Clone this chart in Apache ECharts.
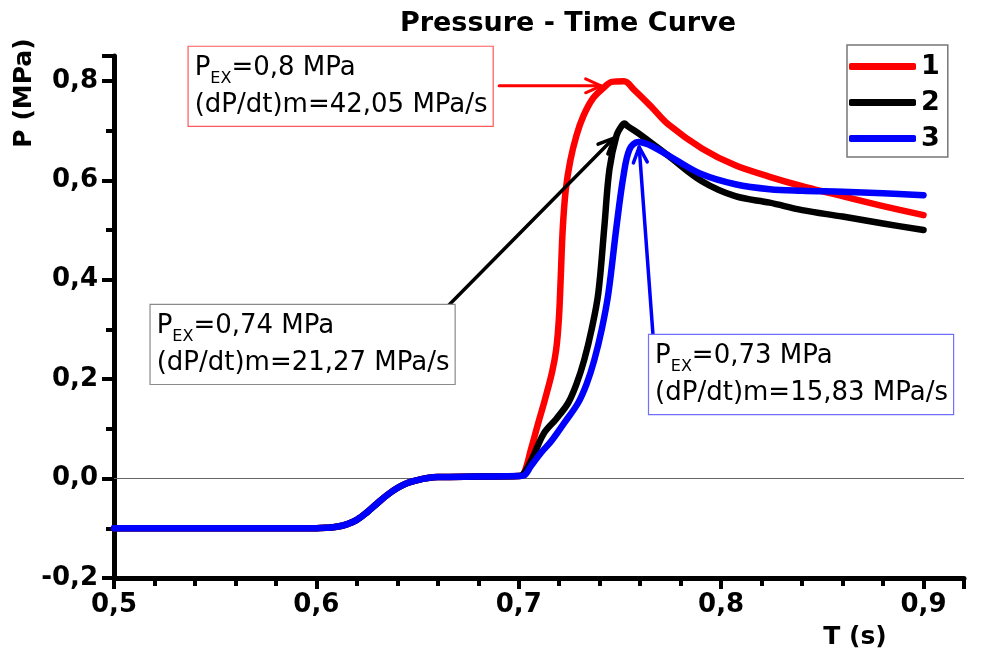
<!DOCTYPE html>
<html><head><meta charset="utf-8">
<script src="https://cdn.jsdelivr.net/npm/echarts@6/dist/echarts.min.js"></script>
<style>html,body{margin:0;padding:0;background:#fff}#c{width:981px;height:655px}</style>
</head><body><div id="c"></div>
<script>
// ---- data ----
const seriesNames = ['1', '2', '3'];
const seriesColors = ['#ff0000', '#000000', '#0000ff'];
// common initial segment (all three curves coincide)
const baseT = [0.5, 0.6, 0.605, 0.61, 0.615, 0.62, 0.625, 0.63, 0.635, 0.64, 0.645, 0.65, 0.655, 0.66, 0.68, 0.7];
const baseP = [-0.1, -0.1, -0.099, -0.097, -0.092, -0.083, -0.068, -0.05, -0.033, -0.019, -0.009, -0.003, 0.001, 0.003, 0.004, 0.005];
// curve 1 (red)
const t1 = [0.7025, 0.706, 0.7095, 0.713, 0.7165, 0.7185, 0.7198, 0.7207, 0.7217, 0.7232, 0.7255, 0.7285, 0.732, 0.7367, 0.7422, 0.746, 0.752, 0.757, 0.7655, 0.774, 0.7905, 0.807, 0.824, 0.84, 0.85, 0.86, 0.88, 0.9];
const p1 = [0.01, 0.058, 0.11, 0.16, 0.215, 0.26, 0.32, 0.4, 0.5, 0.58, 0.64, 0.69, 0.73, 0.765, 0.787, 0.798, 0.799, 0.782, 0.748, 0.712, 0.664, 0.63, 0.607, 0.588, 0.578, 0.568, 0.548, 0.53];
// curve 2 (black)
const t2 = [0.7025, 0.7066, 0.7124, 0.7185, 0.7244, 0.7285, 0.7323, 0.736, 0.7393, 0.7423, 0.7448, 0.7483, 0.7508, 0.7522, 0.7538, 0.7607, 0.774, 0.7905, 0.807, 0.824, 0.84, 0.86, 0.88, 0.9];
const p2 = [0.01, 0.04, 0.091, 0.12, 0.152, 0.19, 0.238, 0.3, 0.373, 0.507, 0.622, 0.69, 0.709, 0.714, 0.709, 0.69, 0.649, 0.598, 0.568, 0.555, 0.54, 0.527, 0.513, 0.5];
// curve 3 (blue)
const t3 = [0.7025, 0.706, 0.711, 0.716, 0.7225, 0.7293, 0.7335, 0.7373, 0.741, 0.7443, 0.7483, 0.7517, 0.7547, 0.759, 0.7657, 0.7771, 0.7905, 0.807, 0.824, 0.84, 0.86, 0.88, 0.9];
const p3 = [0.006, 0.025, 0.052, 0.075, 0.112, 0.152, 0.19, 0.238, 0.3, 0.373, 0.507, 0.608, 0.662, 0.677, 0.669, 0.642, 0.612, 0.592, 0.582, 0.579, 0.577, 0.574, 0.57];
// axis ranges
const xRange = [0.5, 0.92];
const yRange = [-0.2, 0.85];
// annotations (texts + anchors in data coordinates)
const annTexts = [
  ['0,8 MPa', '(dP/dt)m=42,05 MPa/s'],
  ['0,74 MPa', '(dP/dt)m=21,27 MPa/s'],
  ['0,73 MPa', '(dP/dt)m=15,83 MPa/s']
];
const annBoxAnchor = [[0.5369, 0.8684], [0.5181, 0.3493], [0.7644, 0.2889]];
const annArrowFrom = [[0.6903, 0.790], [0.6655, 0.3493], [0.7664, 0.2849]];
const annArrowTo = [[0.7407, 0.790], [0.747, 0.685], [0.7595, 0.667]];

// ---- chart ----
const FONT = 'DejaVu Sans';
const fmt = v => v.toFixed(1).replace('.', ',');
function buildData(ts, ps) {
  const out = [];
  baseT.forEach((t, i) => out.push([t, baseP[i]]));
  ts.forEach((t, i) => out.push([t, ps[i]]));
  return out;
}
const allT = [t1, t2, t3], allP = [p1, p2, p3];

const chart = echarts.init(document.getElementById('c'), null, {renderer: 'canvas'});
const option = {
  animation: false,
  backgroundColor: '#ffffff',
  title: {
    text: 'Pressure - Time Curve',
    left: 563, top: 5, textAlign: 'center',
    textStyle: {fontFamily: FONT, fontWeight: 'bold', fontSize: 27, color: '#000'}
  },
  legend: {
    orient: 'vertical', left: 847, top: 45,
    padding: [8, 8, 5, 2],
    itemGap: 9, itemWidth: 67, itemHeight: 7,
    icon: 'roundRect',
    borderColor: '#777', borderWidth: 1.5,
    textStyle: {fontFamily: FONT, fontWeight: 'bold', fontSize: 27, color: '#000'},
    data: seriesNames
  },
  grid: {left: 114, right: 17, top: 56, bottom: 77, containLabel: false},
  xAxis: {
    type: 'value', min: xRange[0], max: xRange[1], interval: 0.1,
    axisLine: {onZero: false, lineStyle: {color: '#000', width: 5}},
    axisTick: {show: true, length: 11, lineStyle: {color: '#000', width: 4}},
    minorTick: {show: true, splitNumber: 5, length: 8, lineStyle: {color: '#000', width: 4}},
    splitLine: {show: false},
    axisLabel: {
      fontFamily: FONT, fontWeight: 'bold', fontSize: 26, color: '#000', margin: 14,
      showMaxLabel: false, formatter: fmt
    }
  },
  yAxis: {
    type: 'value', min: yRange[0], max: yRange[1], interval: 0.2,
    axisLine: {show: true, onZero: false, lineStyle: {color: '#000', width: 5}},
    axisTick: {show: true, length: 12, lineStyle: {color: '#000', width: 4}},
    minorTick: {show: true, splitNumber: 2, length: 8, lineStyle: {color: '#000', width: 4}},
    splitLine: {show: false},
    axisLabel: {
      fontFamily: FONT, fontWeight: 'bold', fontSize: 26, color: '#000', margin: 16,
      showMaxLabel: false, formatter: fmt
    }
  },
  series: seriesNames.map((name, i) => ({
    name, type: 'line',
    data: buildData(allT[i], allP[i]),
    showSymbol: false, symbol: 'none',
    smooth: 0.35,
    color: seriesColors[i],
    lineStyle: {color: seriesColors[i], width: 6.5, cap: 'round', join: 'round'},
    z: 2 + i,
    markLine: i === 0 ? {
      silent: true, symbol: ['none', 'none'], label: {show: false},
      lineStyle: {color: '#666', width: 1, type: 'solid'},
      data: [{yAxis: 0}], z: 1
    } : undefined
  }))
};
chart.setOption(option);

// annotation graphics from data coordinates
const boxBorder = ['#ff5a5a', '#8a8a8a', '#7070ff'];
const arrowColor = ['#ff0000', '#000000', '#0000ff'];
const arrowWidth = [3, 3.5, 3.5];
const graphics = [];
annTexts.forEach((lines, i) => {
  const bp = chart.convertToPixel({gridIndex: 0}, annBoxAnchor[i]);
  graphics.push({
    type: 'text', x: bp[0], y: bp[1], z: 100,
    style: {
      text: '{m|P}{s|EX}{m|=' + lines[0] + '}\n{m|' + lines[1] + '}',
      rich: {
        m: {fontFamily: FONT, fontSize: 26, lineHeight: 37, color: '#000'},
        s: {fontFamily: FONT, fontSize: 16, lineHeight: 22, verticalAlign: 'bottom', color: '#000'}
      },
      backgroundColor: '#fff',
      borderColor: boxBorder[i], borderWidth: 1.2,
      padding: [3, 5, 2, 6]
    }
  });
  const a = chart.convertToPixel({gridIndex: 0}, annArrowFrom[i]);
  const b = chart.convertToPixel({gridIndex: 0}, annArrowTo[i]);
  const ang = Math.atan2(b[1] - a[1], b[0] - a[0]);
  const L = 17, spread = 0.42;
  const h1 = [b[0] - L * Math.cos(ang - spread), b[1] - L * Math.sin(ang - spread)];
  const h2 = [b[0] - L * Math.cos(ang + spread), b[1] - L * Math.sin(ang + spread)];
  const st = {stroke: arrowColor[i], lineWidth: arrowWidth[i], fill: null, lineCap: 'round', lineJoin: 'round'};
  graphics.push({type: 'polyline', z: 90, shape: {points: [a, b]}, style: st});
  graphics.push({type: 'polyline', z: 90, shape: {points: [h1, b, h2]}, style: st});
});
// axis names
graphics.push({
  type: 'text', x: 24, y: 93, rotation: Math.PI / 2, z: 100,
  style: {text: 'P (MPa)', fontFamily: FONT, fontWeight: 'bold', fontSize: 25, fill: '#000', align: 'center', verticalAlign: 'middle'}
});
graphics.push({
  type: 'text', x: 855, y: 637, z: 100,
  style: {text: 'T (s)', fontFamily: FONT, fontWeight: 'bold', fontSize: 25, fill: '#000', align: 'center', verticalAlign: 'middle'}
});
chart.setOption({graphic: graphics});
</script>
</body></html>
